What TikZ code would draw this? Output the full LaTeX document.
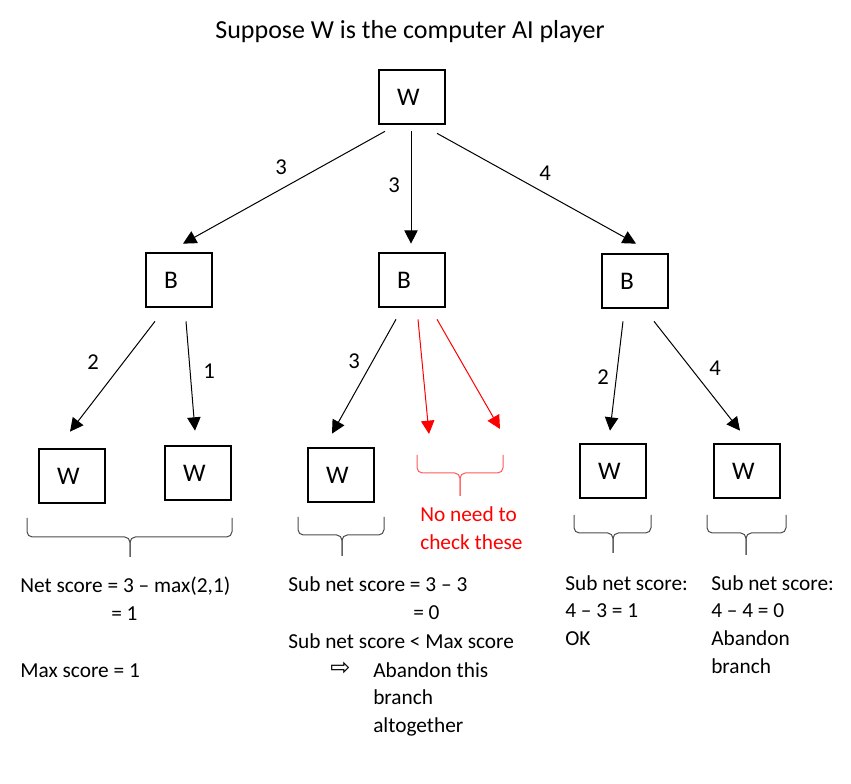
\documentclass[tikz,border=0pt]{standalone}
\usepackage{fontspec}
\setmainfont{Carlito}
\newfontfamily\symfont{DejaVu Sans}
\usetikzlibrary{arrows.meta,calc}

\tikzset{
	box/.style = {draw, line width = 1.5pt, text width = 22.5pt, inner xsep = 13.5pt,
		inner ysep = 0pt, minimum height = 41pt, align = left, font = \fontsize{19}{22}\selectfont},
	edge/.style = {line width = 0.75pt, -{Triangle[length = 10pt, width = 10pt]}},
	lbl/.style = {inner sep = 0pt, font = \fontsize{17}{20}\selectfont},
	note/.style = {anchor = base west, inner sep = 0pt, font = \fontsize{16}{21}\selectfont},
	brace/.style = {line width = 0.75pt, black!70, rounded corners = 4pt},
}

% Curly brace: [style] {left x} {right x} {tip x} {top y} {middle y} {tip y}
\newcommand{\cbrace}[7][]{
	\draw [brace, #1] (#2, #5) |- (#4, #6) -- (#4, #7);
	\draw [brace, #1] (#3, #5) |- (#4, #6) -- (#4, #7);
}

\begin{document}
\begin{tikzpicture}[x = 0.75pt, y = -0.75pt]

	\useasboundingbox (0, 0) rectangle (851, 784);

	% Title

	\node [anchor = base, inner sep = 0pt, font = \fontsize{19.5}{24}\selectfont] (title) at (410, 39)
		{Suppose W is the computer AI player};

	% Game tree

	\node [box] (w0) at (412, 97) {W};

	\node [box] (b1) at (179, 280) {B};
	\node [box] (b2) at (412, 280) {B};
	\node [box] (b3) at (635, 281) {B};

	\node [box] (w1) at (72, 476) {W};
	\node [box] (w2) at (198, 473) {W};
	\node [box] (w3) at (341, 475) {W};
	\node [box] (w4) at (613, 471) {W};
	\node [box] (w5) at (747, 471) {W};

	% Moves of W

	\draw [edge] ($(w0.south) + (-27, 6)$) -- ($(b1.north) + (4, -8)$);
	\draw [edge] ($(w0.south) + (-1, 6)$) -- ($(b2.north) + (-1, -8)$);
	\draw [edge] ($(w0.south) + (25, 8)$) -- ($(b3.north) + (1, -9)$);

	\node [lbl] (l1) at (281, 167) {3};
	\node [lbl] (l2) at (394, 185) {3};
	\node [lbl] (l3) at (545, 173) {4};

	% Replies of B

	\draw [edge] ($(b1.south) + (-24, 13)$) -- ($(w1.north) + (-2, -16)$);
	\draw [edge] ($(b1.south) + (7, 13)$) -- ($(w2.north) + (-3, -14)$);
	\draw [edge] ($(b2.south) + (-16, 11)$) -- ($(w3.north) + (-9, -13)$);
	\draw [edge] ($(b3.south) + (-12, 12)$) -- ($(w4.north) + (-3, -12)$);
	\draw [edge] ($(b3.south) + (19, 12)$) -- ($(w5.north) + (-7, -12)$);

	\node [lbl] (l4) at (93, 362) {2};
	\node [lbl] (l5) at (209, 371) {1};
	\node [lbl] (l6) at (354, 361) {3};
	\node [lbl] (l7) at (603, 377) {2};
	\node [lbl] (l8) at (715, 368) {4};

	% Pruned replies

	\coordinate (r1) at (429, 434);
	\coordinate (r2) at (500, 429);

	\draw [edge, red] ($(b2.south) + (6, 11)$) -- (r1);
	\draw [edge, red] ($(b2.south) + (25, 11)$) -- (r2);

	% Braces under the leaves

	\cbrace{27}{232}{130}{518}{537}{557}
	\cbrace{298}{384}{342}{517}{535}{556}
	\cbrace[red!65]{417}{503}{460}{455}{473}{496}
	\cbrace{574}{651}{613}{515}{533}{553}
	\cbrace{707}{786}{746}{515}{533}{555}

	% Notes

	\node [note, red] (n1) at (420, 522) {No need to};
	\node [note, red] (n2) at (420, 550) {check these};

	\node [note] (s1) at (20, 593) {Net score = 3 – max(2,1)};
	\node [note] (s2) at (111, 621) {= 1};
	\node [note] (s3) at (20, 677) {Max score = 1};

	\node [note] (t1) at (288, 592) {Sub net score = 3 – 3};
	\node [note] (t2) at (413, 620) {= 0};
	\node [note] (t3) at (288, 648) {Sub net score < Max score};
	\node [note, font = \fontsize{18}{21}\symfont] (t4) at (330, 676) {⇨};
	\node [note] (t5) at (373, 677) {Abandon this};
	\node [note] (t6) at (373, 705) {branch};
	\node [note] (t7) at (373, 733) {altogether};

	\node [note] (u1) at (565, 590) {Sub net score:};
	\node [note] (u2) at (565, 618) {4 – 3 = 1};
	\node [note] (u3) at (565, 646) {OK};

	\node [note] (v1) at (711, 590) {Sub net score:};
	\node [note] (v2) at (711, 618) {4 – 4 = 0};
	\node [note] (v3) at (711, 646) {Abandon};
	\node [note] (v4) at (711, 674) {branch};

\end{tikzpicture}
\end{document}
